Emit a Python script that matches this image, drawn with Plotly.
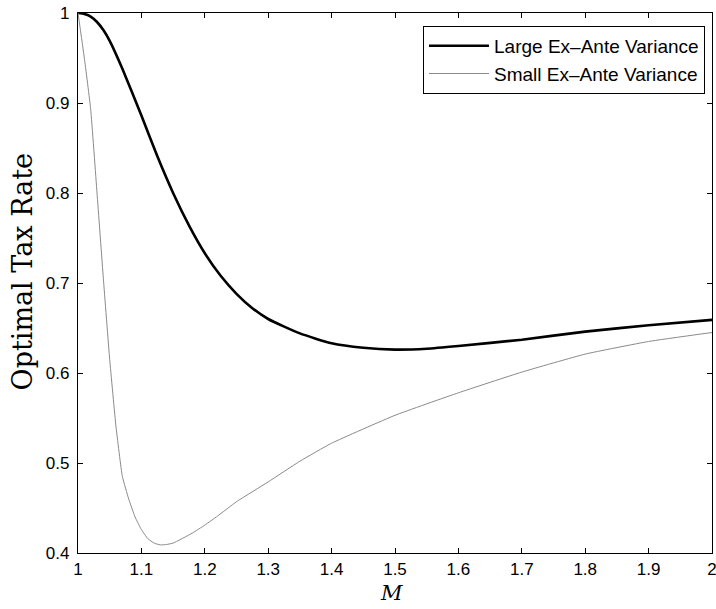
import plotly.graph_objects as go

# Data
m_large = [1.0, 1.01, 1.02, 1.03, 1.04, 1.05, 1.07, 1.1, 1.125, 1.15, 1.175, 1.2,
           1.225, 1.25, 1.275, 1.3, 1.35, 1.4, 1.45, 1.5, 1.55, 1.6, 1.7, 1.8, 1.9, 2.0]
tax_large = [1.0, 0.999, 0.996, 0.99, 0.981, 0.969, 0.938, 0.886, 0.841, 0.800, 0.764, 0.733,
             0.708, 0.688, 0.672, 0.660, 0.644, 0.633, 0.628, 0.626, 0.627, 0.630, 0.637, 0.646, 0.653, 0.659]

m_small = [1.0, 1.01, 1.02, 1.03, 1.04, 1.05, 1.06, 1.07, 1.08, 1.09, 1.10, 1.11, 1.12,
           1.13, 1.14, 1.15, 1.18, 1.20, 1.22, 1.25, 1.30, 1.35, 1.40, 1.50, 1.60, 1.70,
           1.80, 1.90, 2.00]
tax_small = [1.0, 0.95, 0.893, 0.80, 0.705, 0.615, 0.54, 0.485, 0.46, 0.44, 0.426, 0.416, 0.411,
             0.409, 0.4095, 0.411, 0.422, 0.431, 0.441, 0.457, 0.479, 0.502, 0.522, 0.553, 0.578,
             0.601, 0.621, 0.635, 0.645]

x_ticks = [1.0, 1.1, 1.2, 1.3, 1.4, 1.5, 1.6, 1.7, 1.8, 1.9, 2.0]
x_tick_labels = ["1", "1.1", "1.2", "1.3", "1.4", "1.5", "1.6", "1.7", "1.8", "1.9", "2"]
y_ticks = [0.4, 0.5, 0.6, 0.7, 0.8, 0.9, 1.0]
y_tick_labels = ["0.4", "0.5", "0.6", "0.7", "0.8", "0.9", "1"]

series_names = ["Large Ex\u2013Ante Variance", "Small Ex\u2013Ante Variance"]
x_title = "M"
y_title = "Optimal Tax Rate"

sans = "Liberation Sans, Arial, sans-serif"
serif = "DejaVu Serif, serif"

fig = go.Figure()
fig.add_trace(go.Scatter(x=m_large, y=tax_large, mode="lines", name=series_names[0],
                         line=dict(color="black", width=2.6, shape="spline", smoothing=0.5)))
fig.add_trace(go.Scatter(x=m_small, y=tax_small, mode="lines", name=series_names[1],
                         line=dict(color="#8a8a8a", width=1, shape="spline", smoothing=0.4)))

axis_common = dict(showgrid=False, zeroline=False, showline=True, linecolor="black",
                   linewidth=1.3, mirror="allticks", ticks="inside", ticklen=5,
                   tickcolor="black", tickwidth=1, automargin=False,
                   ticklabeloverflow="allow",
                   tickfont=dict(family=sans, size=17, color="black"))

fig.update_xaxes(range=[1, 2], tickvals=x_ticks, ticktext=x_tick_labels, **axis_common)
fig.update_yaxes(range=[0.4, 1], tickvals=y_ticks, ticktext=y_tick_labels,
                 ticklabelstandoff=4, **axis_common)

fig.add_annotation(text=y_title, xref="paper", yref="paper", x=-0.087, y=0.521,
                   xanchor="center", yanchor="middle", textangle=-90, showarrow=False,
                   font=dict(family=serif, size=27, color="black"))
fig.add_annotation(text="<i>" + x_title + "</i>", xref="paper", yref="paper", x=0.494, y=-0.074,
                   xanchor="center", yanchor="middle", showarrow=False,
                   font=dict(family=serif, size=21, color="black"))

fig.update_layout(
    width=716, height=609,
    margin=dict(l=78, r=4, t=13, b=56),
    paper_bgcolor="white", plot_bgcolor="white",
    legend=dict(x=0.989, y=0.976, xanchor="right", yanchor="top",
                bordercolor="black", borderwidth=1, bgcolor="white", itemwidth=60,
                font=dict(family=sans, size=19, color="black"), tracegroupgap=0),
)

fig.write_html("out.html", config={"displayModeBar": False},
               post_script="document.body.style.margin='0';document.body.style.overflow='hidden';")
